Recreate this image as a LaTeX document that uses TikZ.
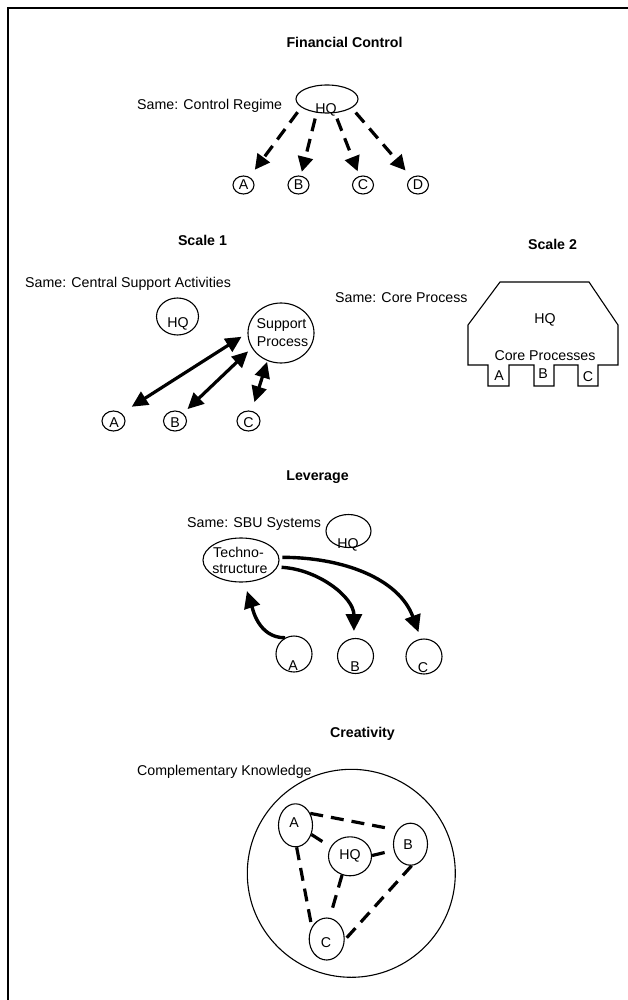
\documentclass[tikz,border=0pt]{standalone}
\usepackage{fontspec}
\setmainfont{Liberation Sans}
\usetikzlibrary{arrows.meta,shapes.geometric}
\newcommand\diagfont{\fontsize{14.2}{16}\selectfont}
\begin{document}
\begin{tikzpicture}[x=1pt,y=-1pt,
  txt/.style={inner sep=0pt, anchor=base, font=\diagfont},
  lbl/.style={inner sep=0pt, anchor=base west, font=\diagfont},
  ttl/.style={inner sep=0pt, anchor=base, font=\diagfont\bfseries},
  ov/.style={ellipse, draw, line width=1.1pt, inner sep=0pt},
  frame/.style={line width=2.6pt},
  darr/.style={line width=3.2pt, dash pattern=on 13pt off 8pt, -{Triangle[length=15pt,width=15pt]}},
  barr/.style={line width=3.2pt, {Triangle[length=16pt,width=15pt]}-{Triangle[length=16pt,width=15pt]}},
  carr/.style={line width=3.4pt, -{Triangle[length=17pt,width=16pt]}},
  dlink/.style={line width=3.2pt, dash pattern=on 13pt off 8pt},
]
\useasboundingbox (0,0) rectangle (628,1000);

% outer frame (open at the right and bottom)
\draw[frame] (8,1002) -- (8,8) -- (630,8);

% ---------- Financial Control ----------
\node[ttl] (t1) at (344.5,48) {Financial Control};
\node[lbl] (l1) at (137,110) {Same: Control Regime};
\node[ov, minimum width=62pt, minimum height=28pt] (fhq) at (327,99) {};
\node[txt] (fhqt) at (326,113.5) {HQ};
\node[ov, minimum width=21pt, minimum height=18pt] (fa) at (243.5,185) {};
\node[ov, minimum width=21pt, minimum height=18pt] (fb) at (298.5,185) {};
\node[ov, minimum width=21pt, minimum height=18pt] (fc) at (363,185) {};
\node[ov, minimum width=21pt, minimum height=18pt] (fd) at (418,185) {};
\node[txt] (fat) at (243.5,190) {A};
\node[txt] (fbt) at (298.5,190) {B};
\node[txt] (fct) at (363,190) {C};
\node[txt] (fdt) at (418,190) {D};
\draw[darr, shorten <=6pt, shorten >=9pt] (fhq.198) -- (fa);
\draw[darr, shorten <=6pt, shorten >=4pt] (fhq.233) -- (fb);
\draw[darr, shorten <=6pt, shorten >=5pt] (fhq.299) -- (fc);
\draw[darr, shorten <=6pt, shorten >=9pt] (fhq.340) -- (fd);

% ---------- Scale 1 ----------
\node[ttl] (t2) at (202.5,245) {Scale 1};
\node[lbl] (l2) at (25,287.5) {Same: Central Support Activities};
\node[ov, minimum width=42pt, minimum height=37pt] (s1hq) at (177.5,316.5) {};
\node[txt] (s1hqt) at (178,327) {HQ};
\node[ov, minimum width=66pt, minimum height=60pt] (s1sp) at (281,333) {};
\node[txt] (s1spa) at (281.5,328) {Support};
\node[txt] (s1spb) at (282.5,346) {Process};
\node[ov, minimum width=23pt, minimum height=20pt] (s1a) at (113.5,421) {};
\node[ov, minimum width=23pt, minimum height=20pt] (s1b) at (175,421) {};
\node[ov, minimum width=23pt, minimum height=20pt] (s1c) at (248.5,421) {};
\node[txt] (s1at) at (114,427) {A};
\node[txt] (s1bt) at (175,427) {B};
\node[txt] (s1ct) at (248.5,427) {C};
\draw[barr, shorten <=12pt, shorten >=7pt] (s1a.44) -- (s1sp.west);
\draw[barr, shorten <=6pt, shorten >=5pt] (s1b) -- (s1sp.207);
\draw[barr, shorten <=9pt, shorten >=1pt] (s1c) -- (s1sp.244);

% ---------- Scale 2 ----------
\node[ttl] (t3) at (552.5,250) {Scale 2};
\node[lbl] (l3) at (335,302) {Same: Core Process};
\draw[line width=1.1pt, line join=miter]
  (468,365) -- (468,325) -- (500,282) -- (589,282) -- (618,325) -- (618,365)
  -- (598,365) -- (598,386) -- (578,386) -- (578,365)
  -- (554,365) -- (554,386) -- (534,386) -- (534,365)
  -- (509,365) -- (509,386) -- (488,386) -- (488,365) -- cycle;
\node[txt] (s2hq) at (545,323) {HQ};
\node[txt] (s2cp) at (545,360) {Core Processes};
\node[txt] (s2a) at (499,380) {A};
\node[txt] (s2b) at (543,378) {B};
\node[txt] (s2c) at (588,381) {C};

% ---------- Leverage ----------
\node[ttl] (t4) at (317.5,480) {Leverage};
\node[lbl] (l4) at (187,527.5) {Same: SBU Systems};
\node[ov, minimum width=45pt, minimum height=33pt] (lhq) at (348.5,531) {};
\node[txt] (lhqt) at (348,548) {HQ};
\node[ov, minimum width=76pt, minimum height=44pt] (lT) at (241,560) {};
\node[txt] (lTa) at (238.5,557) {Techno-};
\node[txt] (lTb) at (240,573) {structure};
\node[ov, minimum width=36pt, minimum height=36pt] (la) at (294,654) {};
\node[ov, minimum width=36pt, minimum height=35pt] (lb) at (355.5,656) {};
\node[ov, minimum width=36pt, minimum height=35pt] (lc) at (424,656.5) {};
\node[txt] (lat) at (293,670) {A};
\node[txt] (lbt) at (355,671) {B};
\node[txt] (lct) at (423,672) {C};
\draw[carr, shorten >=9pt] (la.119) to[out=180, in=-72] (lT.278);
\draw[carr, shorten <=4pt, shorten >=7pt] (lT.-11) to[out=-3, in=90] (lb.95);
\draw[carr, shorten <=3pt, shorten >=7pt] (lT.4) to[out=0, in=110] (lc.100);

% ---------- Creativity ----------
\node[ttl] (t5) at (362.5,737) {Creativity};
\node[lbl] (l5) at (137,775) {Complementary Knowledge};
\node[circle, draw, line width=1.1pt, minimum size=208pt, inner sep=0pt] (big) at (351.3,873.3) {};
\node[ov, minimum width=34pt, minimum height=43pt] (ca) at (295.5,825.3) {};
\node[ov, minimum width=43pt, minimum height=39pt] (chq) at (350,856.3) {};
\node[ov, minimum width=34pt, minimum height=42pt] (cb) at (410.5,844.2) {};
\node[ov, minimum width=35pt, minimum height=42pt] (cc) at (326.7,939) {};
\node[txt] (cat) at (294,827) {A};
\node[txt] (chqt) at (350,859) {HQ};
\node[txt] (cbt) at (408,849) {B};
\node[txt] (cct) at (326,947) {C};
\draw[dlink, shorten >=6pt] (ca.39) -- (cb.133);
\draw[dlink, shorten >=3pt] (ca.-30) -- (chq.154);
\draw[dlink, shorten >=3pt] (chq.2) -- (cb.200);
\draw[dlink] (ca.273) -- (cc.141);
\draw[dlink, shorten >=4pt] (chq.247) -- (cc.82);
\draw[dlink, shorten >=3pt] (cb.273) -- (cc.357);
\end{tikzpicture}
\end{document}
